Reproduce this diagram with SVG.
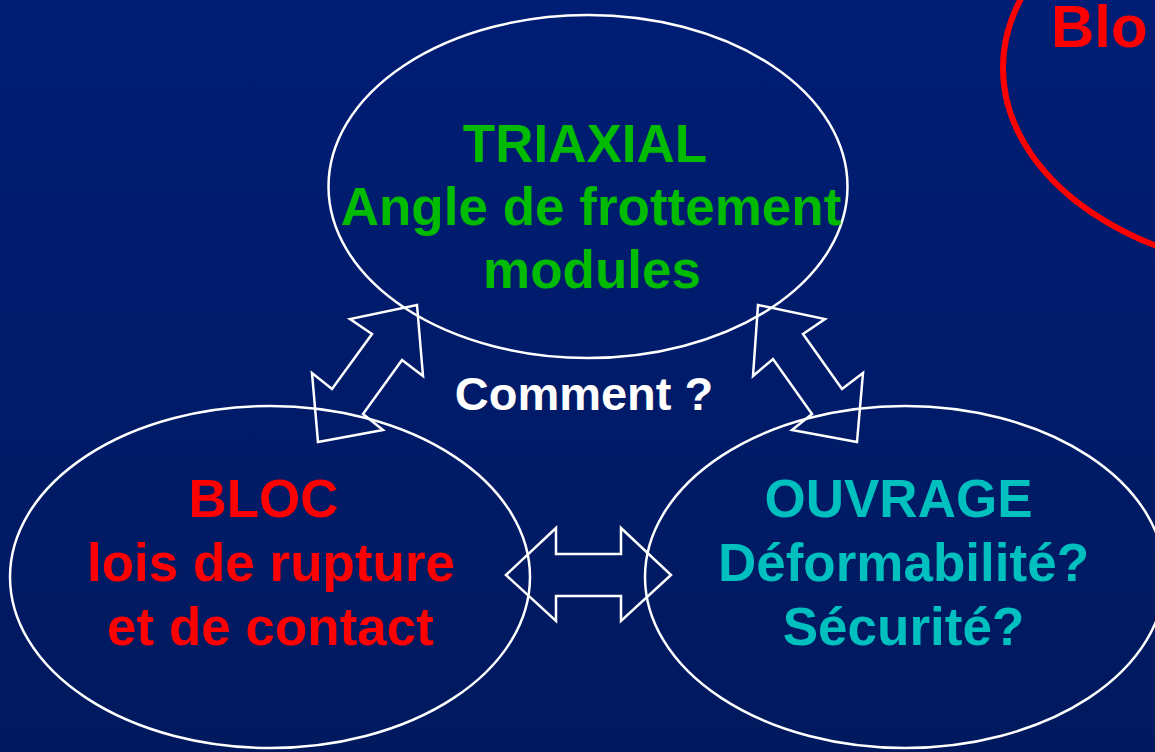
<svg xmlns="http://www.w3.org/2000/svg" width="1155" height="752" viewBox="0 0 1155 752">
  <defs>
    <linearGradient id="bg" x1="0" y1="0" x2="0" y2="1">
      <stop offset="0" stop-color="#001D75"/>
      <stop offset="1" stop-color="#00195E"/>
    </linearGradient>
    <style>
      .ell{fill:none;stroke:#FFFFFF;stroke-width:2.5}
      .arrow{fill:none;stroke:#FFFFFF;stroke-width:2.5;stroke-linejoin:miter}
      .t{font-family:"Liberation Sans",Arial,sans-serif;font-weight:bold;font-size:53px;text-anchor:middle}
      .green{fill:#00BB00}
      .red{fill:#FF0000}
      .cyan{fill:#00BFBF}
      .white{fill:#FFFFFF}
    </style>
  </defs>
  <rect x="0" y="0" width="1155" height="752" fill="url(#bg)"/>

  <g id="node-bloc-partial">
    <ellipse cx="1308" cy="68" rx="305" ry="205" fill="none" stroke="#FF0000" stroke-width="6"/>
    <text class="t red" x="1051" y="47" style="font-size:60px;text-anchor:start">Blo</text>
  </g>

  <g id="node-triaxial">
    <ellipse class="ell" cx="588" cy="186.5" rx="259.5" ry="171.5"/>
    <text class="t green" x="585" y="162">TRIAXIAL</text>
    <text class="t green" x="591" y="224.5">Angle de frottement</text>
    <text class="t green" x="592" y="288">modules</text>
  </g>

  <g id="node-bloc">
    <ellipse class="ell" cx="270" cy="577" rx="260" ry="171"/>
    <text class="t red" x="263.5" y="517">BLOC</text>
    <text class="t red" x="271" y="581">lois de rupture</text>
    <text class="t red" x="270.5" y="645">et de contact</text>
  </g>

  <g id="node-ouvrage">
    <ellipse class="ell" cx="905" cy="577" rx="260" ry="171"/>
    <text class="t cyan" x="898.5" y="517">OUVRAGE</text>
    <text class="t cyan" x="903.5" y="581">Déformabilité?</text>
    <text class="t cyan" x="903.5" y="645">Sécurité?</text>
  </g>

  <g id="label-comment">
    <text class="t white" x="584" y="410" style="font-size:47px">Comment ?</text>
  </g>

  <g id="connectors">
    <polygon class="arrow" points="417,305 423,376 402,360 363,414 383,430 318,442 312,373 332,389 372,334 350,319"/>
    <polygon class="arrow" points="758,305 825,319 803,334 842,389 863,373 857,442 792,430 812,414 773,359 753,376"/>
    <polygon class="arrow" points="506,575 556,528 556,554 621,554 621,528 671,575 621,621 621,596 556,596 556,621"/>
  </g>
</svg>
